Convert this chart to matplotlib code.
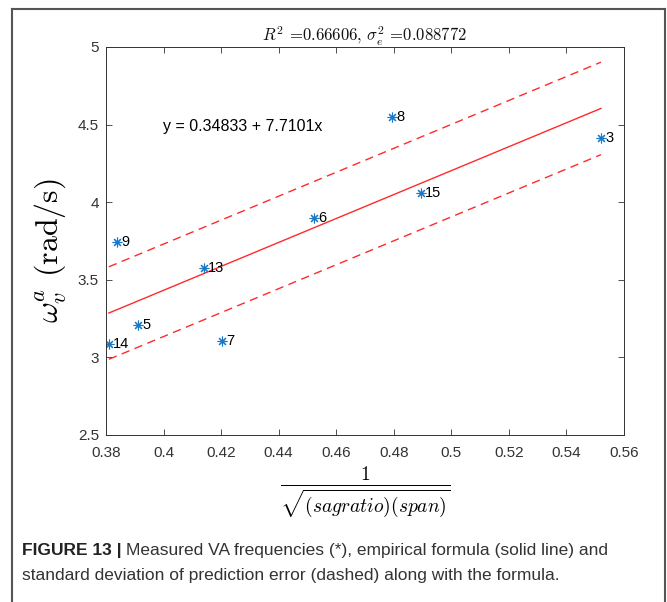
import numpy as np
import matplotlib
matplotlib.use("Agg")
import matplotlib.pyplot as plt
from matplotlib.lines import Line2D

plt.rcParams['mathtext.fontset'] = 'cm'
plt.rcParams['axes.unicode_minus'] = False

# measured points (x = 1/sqrt(sagratio*span), y = omega_v^a)
ids = ["14", "9", "5", "13", "7", "6", "8", "15", "3"]
xs = [0.3810, 0.3838, 0.3911, 0.4140, 0.4203, 0.4523, 0.4794, 0.4894, 0.5520]
ys = [3.086, 3.744, 3.209, 3.576, 3.106, 3.898, 4.549, 4.059, 4.414]

# fit results
a0 = 0.34833
a1 = 7.7101
r2 = 0.66606
var_e = 0.088772

sans = ['Liberation Sans', 'DejaVu Sans']
tick_col = '#333333'

fig = plt.figure(figsize=(6.67, 6.02), dpi=100)
ax = fig.add_axes([106 / 667, 1 - 435 / 602, 518 / 667, 388 / 602])

# fitted line and +/- one std of prediction error
xf = np.array([min(xs), max(xs)])
yf = a0 + a1 * xf
sd = np.sqrt(var_e)
ax.plot(xf, yf, color='#ff2a2a', lw=1.0)
ax.plot(xf, yf + sd, color='#ff2a2a', lw=1.0, ls=(0, (6, 4)))
ax.plot(xf, yf - sd, color='#ff2a2a', lw=1.0, ls=(0, (6, 4)))

# MATLAB style '*' marker
ax.plot(xs, ys, ls='none', marker=(8, 2, 0), ms=7, mew=0.8, color='#1a78c8')
for x, y, s in zip(xs, ys, ids):
    ax.annotate(s, (x, y), xytext=(3, 0), textcoords='offset points',
                ha='left', va='center', fontsize=10.5, family=sans, color='black')

ax.text(0.3998, 4.485, "y = %.5f + %.4fx" % (a0, a1), ha='left', va='center',
        fontsize=11.5, family=sans, color='black')

ax.set_xlim(0.38, 0.56)
ax.set_ylim(2.5, 5)
ax.set_xticks(np.arange(0.38, 0.561, 0.02))
ax.set_xticklabels(["0.38", "0.4", "0.42", "0.44", "0.46", "0.48", "0.5", "0.52", "0.54", "0.56"])
ax.set_yticks([2.5, 3, 3.5, 4, 4.5, 5])
ax.set_yticklabels(["2.5", "3", "3.5", "4", "4.5", "5"])
ax.tick_params(direction='in', top=True, right=True, length=4, width=0.6,
               colors=tick_col, labelsize=11)
ax.tick_params(axis='x', pad=8)
ax.tick_params(axis='y', pad=5)
for lab in ax.get_xticklabels() + ax.get_yticklabels():
    lab.set_family(sans)
for sp in ax.spines.values():
    sp.set_color(tick_col)
    sp.set_linewidth(0.7)

ax.set_title(r"$R^2$ =%.5f, $\sigma_e^2$ =%.6f" % (r2, var_e), family='cmr10',
             fontsize=12, pad=4, color='#111111')
ax.set_ylabel(r"$\omega_v^a$ (rad/s)", family='cmr10', fontsize=23)
ax.yaxis.set_label_coords(-0.073, 0.475)
ax.set_xlabel(r"$\frac{1}{\sqrt{(sagratio)(span)}}$", fontsize=20, labelpad=3)

# outer frame of the figure panel
fc = '#555555'
fig.add_artist(Line2D([12 / 667, 665 / 667], [1 - 9 / 602, 1 - 9 / 602], color=fc, lw=1.5))
fig.add_artist(Line2D([12 / 667, 12 / 667], [0, 1 - 9 / 602], color=fc, lw=1.5))
fig.add_artist(Line2D([665 / 667, 665 / 667], [0, 1 - 9 / 602], color=fc, lw=1.5))

# caption
cap = ['Liberation Sans Narrow', 'Liberation Sans']
t1 = fig.text(22 / 667, 1 - 555 / 602, "FIGURE 13 |", family=cap, weight='bold',
              fontsize=12.5, va='baseline', color='#222222')
fig.canvas.draw()
bb = t1.get_window_extent()
fig.text(bb.x1 / fig.bbox.width + 4 / 667, 1 - 555 / 602,
         "Measured VA frequencies (*), empirical formula (solid line) and",
         family=cap, fontsize=12.5, va='baseline', color='#333333')
fig.text(22 / 667, 1 - 580 / 602,
         "standard deviation of prediction error (dashed) along with the formula.",
         family=cap, fontsize=12.5, va='baseline', color='#333333')

fig.savefig("out.png", dpi=100)
